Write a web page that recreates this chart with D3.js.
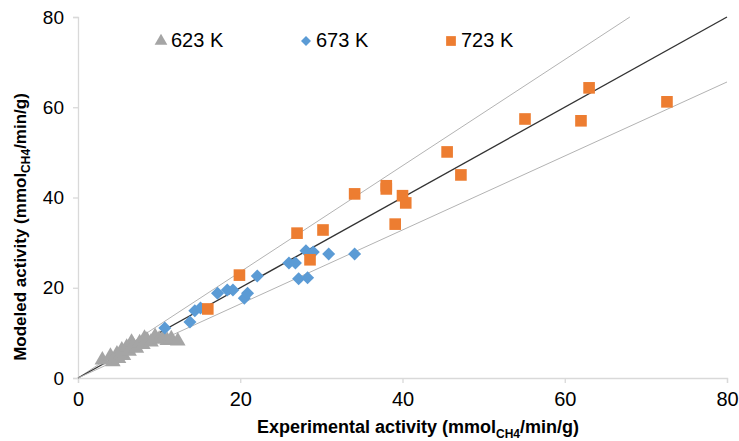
<!DOCTYPE html>
<html>
<head>
<meta charset="utf-8">
<script src="https://cdn.jsdelivr.net/npm/d3@7"></script>
<style>
  body { margin: 0; background: #fff; }
  svg text { font-family: "Liberation Sans", Arial, sans-serif; }
</style>
</head>
<body>
<div id="chart"></div>
<script>
// 623 K points [experimental, modeled]
const series623 = [
    [3.0, 4.0], [4.0, 4.8], [4.3, 3.6], [4.8, 5.3], [5.0, 4.3], [5.4, 6.2],
    [5.6, 5.0], [6.0, 6.8], [6.3, 5.9], [6.6, 7.9], [6.8, 7.2], [7.2, 6.6],
    [7.6, 7.8], [8.0, 7.4], [8.2, 8.8], [8.5, 8.4], [9.0, 8.0], [9.5, 9.2],
    [10.0, 8.6], [10.5, 8.9], [11.0, 8.3], [11.5, 8.7], [12.3, 8.2]
];
const series673 = [
    [10.7, 11.1], [13.8, 12.4], [14.4, 14.9], [15.1, 15.5], [17.2, 18.8],
    [18.4, 19.5], [19.1, 19.5], [20.5, 17.7], [20.9, 18.8], [22.1, 22.6],
    [26.0, 25.5], [26.8, 25.5], [27.2, 22.0], [28.3, 22.2], [28.1, 28.2],
    [29.0, 27.9], [30.9, 27.5], [34.1, 27.5]
];
const series723 = [
    [16.0, 15.3], [19.9, 22.8], [27.0, 32.1], [28.6, 26.2], [30.2, 32.8],
    [34.1, 40.8], [38.0, 42.6], [38.0, 41.9], [39.1, 34.1], [40.0, 40.4],
    [40.4, 38.8], [45.5, 50.1], [47.2, 45.0], [55.1, 57.4], [62.0, 57.0],
    [63.0, 64.3], [72.6, 61.2]
];
const seriesNames = ["623 K", "673 K", "723 K"];
const seriesColors = ["#a5a5a5", "#5b9bd5", "#ed7d31"];
const axisTicks = [0, 20, 40, 60, 80];
// upper bound, parity line, lower bound (slopes)
const guideSlopes = [1.176, 1.0, 0.82];

const width = 739, height = 441;
const svg = d3.select("#chart").append("svg")
    .attr("width", width)
    .attr("height", height);

const x = d3.scaleLinear().domain([0, 80]).range([78, 727]);
const y = d3.scaleLinear().domain([0, 80]).range([378, 17]);

// axes
const xAxis = svg.append("g")
    .attr("transform", `translate(0, ${y(0)})`)
    .call(d3.axisBottom(x).tickValues(axisTicks).tickSize(5).tickPadding(9));
const yAxis = svg.append("g")
    .attr("transform", `translate(${x(0)}, 0)`)
    .call(d3.axisLeft(y).tickValues(axisTicks).tickSize(5).tickPadding(9));

[xAxis, yAxis].forEach((g) => {
    g.select(".domain").attr("stroke", "#d9d9d9").attr("stroke-width", 1.3);
    g.selectAll(".tick line").attr("stroke", "#d9d9d9").attr("stroke-width", 1.3);
    g.selectAll(".tick text")
        .attr("fill", "#000")
        .style("font-size", "19px");
});
xAxis.selectAll(".tick text").style("font-size", "20px");

// guide lines
guideSlopes.forEach((s) => {
    const xEnd = Math.min(80, 80 / s);
    svg.append("line")
        .attr("x1", x(0)).attr("y1", y(0))
        .attr("x2", x(xEnd)).attr("y2", y(xEnd * s))
        .attr("stroke", s === 1 ? "#333" : "#b3b3b3")
        .attr("stroke-width", s === 1 ? 1.4 : 1);
});

// triangle, diamond (rotated square), square
const symbolTypes = [d3.symbolTriangle, d3.symbolSquare, d3.symbolSquare];
const symbolSizes = [105, 85, 135];
const symbolRotate = [0, 45, 0];
const allSeries = [series623, series673, series723];

allSeries.forEach((data, i) => {
    const sym = d3.symbol().type(symbolTypes[i]).size(symbolSizes[i]);
    svg.append("g")
        .selectAll("path")
        .data(data)
        .enter()
        .append("path")
        .attr("d", sym)
        .attr("transform", (d) => `translate(${x(d[0])}, ${y(d[1])}) rotate(${symbolRotate[i]})`)
        .attr("fill", seriesColors[i]);
});

// legend
const legendX = [161, 306, 451];
const legend = svg.append("g").attr("transform", "translate(0, 40)");
seriesNames.forEach((name, i) => {
    legend.append("path")
        .attr("d", d3.symbol().type(symbolTypes[i]).size(i === 0 ? 70 : i === 1 ? 50 : 95))
        .attr("transform", `translate(${legendX[i]}, 1) rotate(${symbolRotate[i]})`)
        .attr("fill", seriesColors[i]);
    legend.append("text")
        .attr("x", legendX[i] + 10)
        .attr("y", 7)
        .style("font-size", "20px")
        .text(name);
});

// axis titles
const xTitle = svg.append("text")
    .attr("x", 418)
    .attr("y", 433)
    .attr("text-anchor", "middle")
    .style("font-weight", "bold")
    .style("font-size", "18px");
xTitle.append("tspan").text("Experimental activity (mmol");
xTitle.append("tspan").attr("dy", 5).style("font-size", "12px").text("CH4");
xTitle.append("tspan").attr("dy", -5).text("/min/g)");

const yTitle = svg.append("text")
    .attr("transform", "translate(26, 227) rotate(-90)")
    .attr("text-anchor", "middle")
    .style("font-weight", "bold")
    .style("font-size", "17px");
yTitle.append("tspan").text("Modeled activity (mmol");
yTitle.append("tspan").attr("dy", 4).style("font-size", "12px").text("CH4");
yTitle.append("tspan").attr("dy", -4).text("/min/g)");
</script>
</body>
</html>
